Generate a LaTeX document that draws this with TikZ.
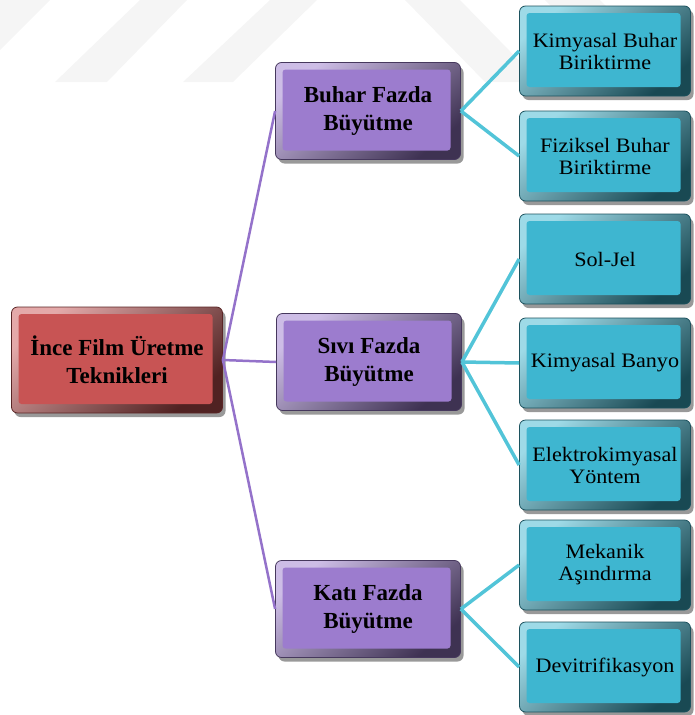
\documentclass[tikz,border=0pt]{standalone}
\usepackage{fontspec}
\setmainfont{Liberation Serif}
\newfontfamily\leaffont[FakeStretch=1.08]{Liberation Serif}
\usepackage{tikz}
\usetikzlibrary{shadows,positioning}

\definecolor{rootred}{RGB}{200,84,84}
\definecolor{phasepurple}{RGB}{156,124,206}
\definecolor{leafcyan}{RGB}{62,182,208}
\definecolor{phaseline}{RGB}{148,114,202}
\definecolor{leafline}{RGB}{82,196,216}
\definecolor{stripegray}{RGB}{245,245,245}

\tikzset{
    bevelbox/.style={rectangle, rounded corners=6pt, align=center, text=black,
        draw=#1!45!black, line width=0.8pt,
        top color=#1!50!white, bottom color=#1!40!black, shading angle=40,
        drop shadow={shadow xshift=3pt, shadow yshift=-4pt, opacity=0.4, fill=black},
        path picture={\fill[#1, rounded corners=3pt]
            ([shift={(7pt,9pt)}]path picture bounding box.south west) rectangle
            ([shift={(-10pt,-7pt)}]path picture bounding box.north east);}},
    rootbox/.style={bevelbox=rootred, minimum width=211pt, minimum height=106pt,
        font=\bfseries\fontsize{23}{28}\selectfont},
    phasebox/.style={bevelbox=phasepurple, minimum width=185pt, minimum height=97pt,
        font=\bfseries\fontsize{23}{28}\selectfont},
    methodbox/.style={bevelbox=leafcyan, minimum width=171pt, minimum height=90pt,
        font=\leaffont\fontsize{20.5}{22}\selectfont},
    rootlink/.style={phaseline, line width=2.5pt},
    phaselink/.style={leafline, line width=3.5pt}
}

\begin{document}
\begin{tikzpicture}[x=1pt, y=-1pt]
    \useasboundingbox (0,0) rectangle (694,715);

    % Watermark stripes
    \fill[stripegray] (0,0) -- (50,0) -- (0,50) -- cycle;
    \fill[stripegray] (140,0) -- (187,0) -- (107,82) -- (55,82) -- cycle;
    \fill[stripegray] (270,0) -- (317,0) -- (233,82) -- (183,82) -- cycle;
    \fill[stripegray] (405,0) -- (460,0) -- (540,82) -- (485,82) -- cycle;
    \fill[stripegray] (545,0) -- (600,0) -- (680,82) -- (625,82) -- cycle;

    % Root
    \node[rootbox] (root) at (117,360) {\.Ince Film Üretme\\Teknikleri};

    % Phase boxes
    \node[phasebox] (buhar) at (368,111) {Buhar Fazda\\Büyütme};
    \node[phasebox] (sivi) at (369,362) {Sıvı Fazda\\Büyütme};
    \node[phasebox] (kati) at (368,609) {Katı Fazda\\Büyütme};

    % Method boxes
    \node[methodbox] (kbb) at (605,51) {Kimyasal Buhar\\Biriktirme};
    \node[methodbox] (fbb) at (605,156) {Fiziksel Buhar\\Biriktirme};
    \node[methodbox] (soljel) at (605,259) {Sol-Jel};
    \node[methodbox] (banyo) at (605,363) {Kimyasal Banyo};
    \node[methodbox] (elektro) at (605,465) {Elektrokimyasal\\Yöntem};
    \node[methodbox] (mekanik) at (605,565) {Mekanik\\Aşındırma};
    \node[methodbox] (devit) at (605,667) {Devitrifikasyon};

    % Connectors
    \foreach \p in {buhar, sivi, kati}
        \draw[rootlink] (root.east) -- (\p.west);
    \foreach \m in {kbb, fbb}
        \draw[phaselink] (buhar.east) -- (\m.west);
    \foreach \m in {soljel, banyo, elektro}
        \draw[phaselink] (sivi.east) -- (\m.west);
    \foreach \m in {mekanik, devit}
        \draw[phaselink] (kati.east) -- (\m.west);

\end{tikzpicture}
\end{document}
